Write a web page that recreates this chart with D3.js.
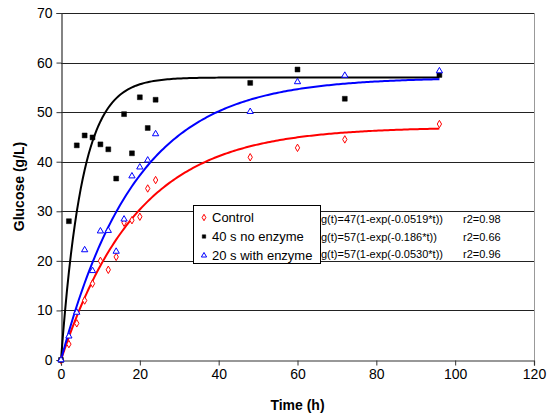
<!DOCTYPE html>
<html>
<head>
<meta charset="utf-8">
<script src="https://cdn.jsdelivr.net/npm/d3@7"></script>
<style>
  body { margin: 0; background: #fff; }
  svg { display: block; font-family: "Liberation Sans", Arial, sans-serif; }
</style>
</head>
<body>
<svg id="chart" width="547" height="415"></svg>
<script>
// sampling times (h)
const times = [0, 2, 4, 6, 8, 10, 12, 14, 16, 18, 20, 22, 24, 48, 60, 72, 96];

// glucose (g/L)
const control = [0, 3.2, 7.4, 12.0, 15.4, 20.0, 18.2, 20.8, 27.7, 28.2, 28.9, 34.6, 36.3, 40.9, 42.8, 44.5, 47.6];
const noEnzyme = [0, 28.0, 43.3, 45.3, 44.9, 43.5, 42.5, 36.6, 49.6, 41.7, 53.0, 46.8, 52.5, 55.9, 58.6, 52.7, 57.5];
const withEnzyme = [0, 4.8, 9.6, 22.2, 18.0, 26.0, 26.1, 21.9, 28.4, 37.1, 38.9, 40.3, 45.6, 50.1, 56.1, 57.4, 58.3];

const seriesNames = ["Control", "40 s no enzyme", "20 s with enzyme"];
const fitA = [47, 57, 57];
const fitK = [0.0519, 0.186, 0.0530];
const fitLabels = ["g(t)=47(1-exp(-0.0519*t))", "g(t)=57(1-exp(-0.186*t))", "g(t)=57(1-exp(-0.0530*t))"];
const r2Labels = ["r2=0.98", "r2=0.66", "r2=0.96"];

const xTicks = [0, 20, 40, 60, 80, 100, 120];
const yTicks = [0, 10, 20, 30, 40, 50, 60, 70];

const colors = ["#ff0000", "#000000", "#0000ff"];
const symbols = [d3.symbolDiamond, d3.symbolSquare, d3.symbolTriangle];
const symbolSizes = [16, 24, 17];
const values = [control, noEnzyme, withEnzyme];

const svg = d3.select("#chart");
const margin = { left: 61, right: 13, top: 13, bottom: 55 };
const width = 547, height = 415;

const x = d3.scaleLinear().domain([0, 120]).range([margin.left, width - margin.right]);
const y = d3.scaleLinear().domain([0, 70]).range([height - margin.bottom, margin.top]);

// gridlines
svg.append("g")
  .selectAll("line")
  .data(yTicks.slice(1))
  .enter()
  .append("line")
  .attr("x1", x(0))
  .attr("x2", x(120))
  .attr("y1", (d) => Math.round(y(d)) + 0.5)
  .attr("y2", (d) => Math.round(y(d)) + 0.5)
  .attr("stroke", "#222")
  .attr("stroke-width", 1);

// right border of plot area
svg.append("line")
  .attr("x1", Math.round(x(120)) + 0.5)
  .attr("x2", Math.round(x(120)) + 0.5)
  .attr("y1", y(70))
  .attr("y2", y(0))
  .attr("stroke", "#999");

// axes
const xAxis = svg.append("g")
  .attr("transform", `translate(0,${Math.round(y(0)) + 0.5})`)
  .call(d3.axisBottom(x).tickValues(xTicks).tickSize(5).tickPadding(4).tickFormat(d3.format("d")));
const yAxis = svg.append("g")
  .attr("transform", `translate(${Math.round(x(0)) + 0.5},0)`)
  .call(d3.axisLeft(y).tickValues(yTicks).tickSize(5).tickPadding(4).tickFormat(d3.format("d")));

[xAxis, yAxis].forEach((a) => {
  a.select(".domain").attr("stroke", "#333").attr("stroke-width", 1.2);
  a.selectAll(".tick line").attr("stroke", "#333");
  a.selectAll(".tick text").attr("font-size", 14).attr("fill", "#000")
    .attr("font-family", "Liberation Sans, Arial, sans-serif");
});

// fitted curves
const line = d3.line()
  .x((d) => x(d[0]))
  .y((d) => y(d[1]));

fitA.forEach((a, i) => {
  const pts = d3.range(0, 96.01, 0.5).map((t) => [t, a * (1 - Math.exp(-fitK[i] * t))]);
  svg.append("path")
    .datum(pts)
    .attr("d", line)
    .attr("fill", "none")
    .attr("stroke", colors[i])
    .attr("stroke-width", 2);
});

// data points
values.forEach((vals, i) => {
  const sym = d3.symbol().type(symbols[i]).size(symbolSizes[i]);
  svg.append("g")
    .selectAll("path")
    .data(vals)
    .enter()
    .append("path")
    .attr("d", sym)
    .attr("transform", (d, j) => `translate(${x(times[j])},${y(d)})`)
    .attr("fill", i === 1 ? "#000" : "#fff")
    .attr("stroke", colors[i])
    .attr("stroke-width", i === 1 ? 0.5 : 1);
});

// legend
const legend = svg.append("g");
legend.append("rect")
  .attr("x", 193.5)
  .attr("y", 205.5)
  .attr("width", 127)
  .attr("height", 58)
  .attr("fill", "#fff")
  .attr("stroke", "#000");

seriesNames.forEach((name, i) => {
  const cy = 217.5 + i * 19;
  legend.append("path")
    .attr("d", d3.symbol().type(symbols[i]).size(12))
    .attr("transform", `translate(204,${cy})`)
    .attr("fill", i === 1 ? "#000" : "#fff")
    .attr("stroke", colors[i])
    .attr("stroke-width", i === 1 ? 0.5 : 1);
  legend.append("text")
    .attr("x", 212)
    .attr("y", cy + 4.7)
    .attr("font-size", 13)
    .text(name);
});

// fit equations
fitLabels.forEach((lab, i) => {
  const by = 223 + i * 17.5;
  svg.append("text")
    .attr("x", 321)
    .attr("y", by)
    .attr("font-size", 11)
    .text(lab);
  svg.append("text")
    .attr("x", 463)
    .attr("y", by)
    .attr("font-size", 11)
    .text(r2Labels[i]);
});

// axis titles
svg.append("text")
  .attr("x", (x(0) + x(120)) / 2)
  .attr("y", 410)
  .attr("text-anchor", "middle")
  .attr("font-size", 14)
  .attr("font-weight", "bold")
  .text("Time (h)");

svg.append("text")
  .attr("transform", `translate(24,${(y(0) + y(70)) / 2}) rotate(-90)`)
  .attr("text-anchor", "middle")
  .attr("font-size", 14)
  .attr("font-weight", "bold")
  .text("Glucose (g/L)");
</script>
</body>
</html>
